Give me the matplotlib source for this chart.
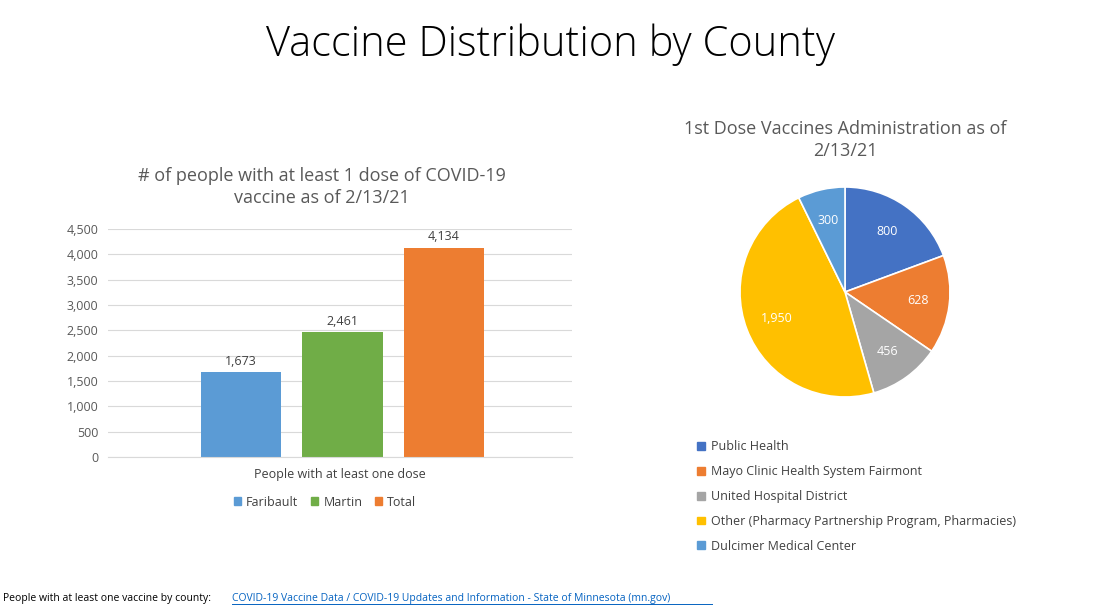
import matplotlib.pyplot as plt
from matplotlib.patches import Patch

plt.rcParams['font.family'] = ['Open Sans', 'DejaVu Sans']

# bar chart data
counties = ['Faribault', 'Martin', 'Total']
people = [1673, 2461, 4134]
bar_colors = ['#5B9BD5', '#70AD47', '#ED7D31']
yticks = [0, 500, 1000, 1500, 2000, 2500, 3000, 3500, 4000, 4500]

# pie data
providers = ['Public Health', 'Mayo Clinic Health System Fairmont', 'United Hospital District',
             'Other (Pharmacy Partnership Program, Pharmacies)', 'Dulcimer Medical Center']
doses = [800, 628, 456, 1950, 300]
pie_colors = ['#4472C4', '#ED7D31', '#A5A5A5', '#FFC000', '#5B9BD5']

W, H = 1106, 613
fig = plt.figure(figsize=(11.06, 6.13), dpi=100)
fig.text(550 / W, 1 - 45 / H, 'Vaccine Distribution by County', ha='center', va='center',
         fontsize=30, fontweight='light', color='black')

# bar chart
ax = fig.add_axes([108 / W, 1 - 457 / H, 464 / W, 228 / H])
x = range(len(counties))
ax.bar(x, people, width=0.79, color=bar_colors, zorder=2)
for i, v in enumerate(people):
    ax.text(i, v + 90, f'{v:,}', ha='center', va='bottom', fontsize=9, color='#404040')
ax.set_xlim(-1.31, 3.26)
ax.set_ylim(0, 4500)
ax.set_yticks(yticks)
ax.set_yticklabels([f'{t:,}' for t in yticks], fontsize=9, color='#595959')
ax.grid(axis='y', color='#D9D9D9', linewidth=0.8, zorder=0)
ax.tick_params(left=False, bottom=False, labelbottom=False)
for s in ['top', 'right', 'left']:
    ax.spines[s].set_visible(False)
ax.spines['bottom'].set_color('#D9D9D9')
ax.set_xlabel('People with at least one dose', fontsize=9, color='#404040', labelpad=8)
fig.text(322 / W, 1 - 187 / H, '# of people with at least 1 dose of COVID-19\nvaccine as of 2/13/21',
         ha='center', va='center', fontsize=13, color='#595959', linespacing=1.3)
fig.legend(handles=[Patch(color=c, label=l) for c, l in zip(bar_colors, counties)],
           loc='center', bbox_to_anchor=(325 / W, 1 - 502 / H), ncol=3, frameon=False,
           fontsize=9, handlelength=0.6, handleheight=0.6, columnspacing=1.0, handletextpad=0.4,
           labelcolor='#404040')

# pie chart
pax = fig.add_axes([740 / W, 1 - 397 / H, 210 / W, 210 / H])
wedges, _, autotexts = pax.pie(doses, colors=pie_colors, startangle=90, counterclock=False,
                               autopct=lambda p: f'{p * sum(doses) / 100:,.0f}', pctdistance=0.7,
                               wedgeprops=dict(edgecolor='white', linewidth=1.2))
for t in autotexts:
    t.set_color('white')
    t.set_fontsize(9)
pax.set_xlim(-1, 1)
pax.set_ylim(-1, 1)
pax.set_aspect('equal')
fig.text(845 / W, 1 - 140 / H, '1st Dose Vaccines Administration as of\n2/13/21',
         ha='center', va='center', fontsize=13, color='#595959', linespacing=1.3)
fig.legend(handles=[Patch(color=c, label=l) for c, l in zip(pie_colors, providers)],
           loc='upper left', bbox_to_anchor=(686 / W, 1 - 429 / H), frameon=False,
           fontsize=9, handlelength=0.6, handleheight=0.6, handletextpad=0.5,
           labelspacing=0.95, labelcolor='#404040')

# footnote
fig.text(3 / W, 1 - 598 / H, 'People with at least one vaccine by county: ', fontsize=7.5,
         va='center', color='black')
fig.text(232 / W, 1 - 598 / H,
         'COVID-19 Vaccine Data / COVID-19 Updates and Information - State of Minnesota (mn.gov)',
         fontsize=7.5, va='center', color='#0563C1')
fig.add_artist(plt.Line2D([232 / W, 712 / W], [1 - 604 / H, 1 - 604 / H], color='#0563C1', linewidth=0.7))

fig.savefig('out.png', dpi=100)
